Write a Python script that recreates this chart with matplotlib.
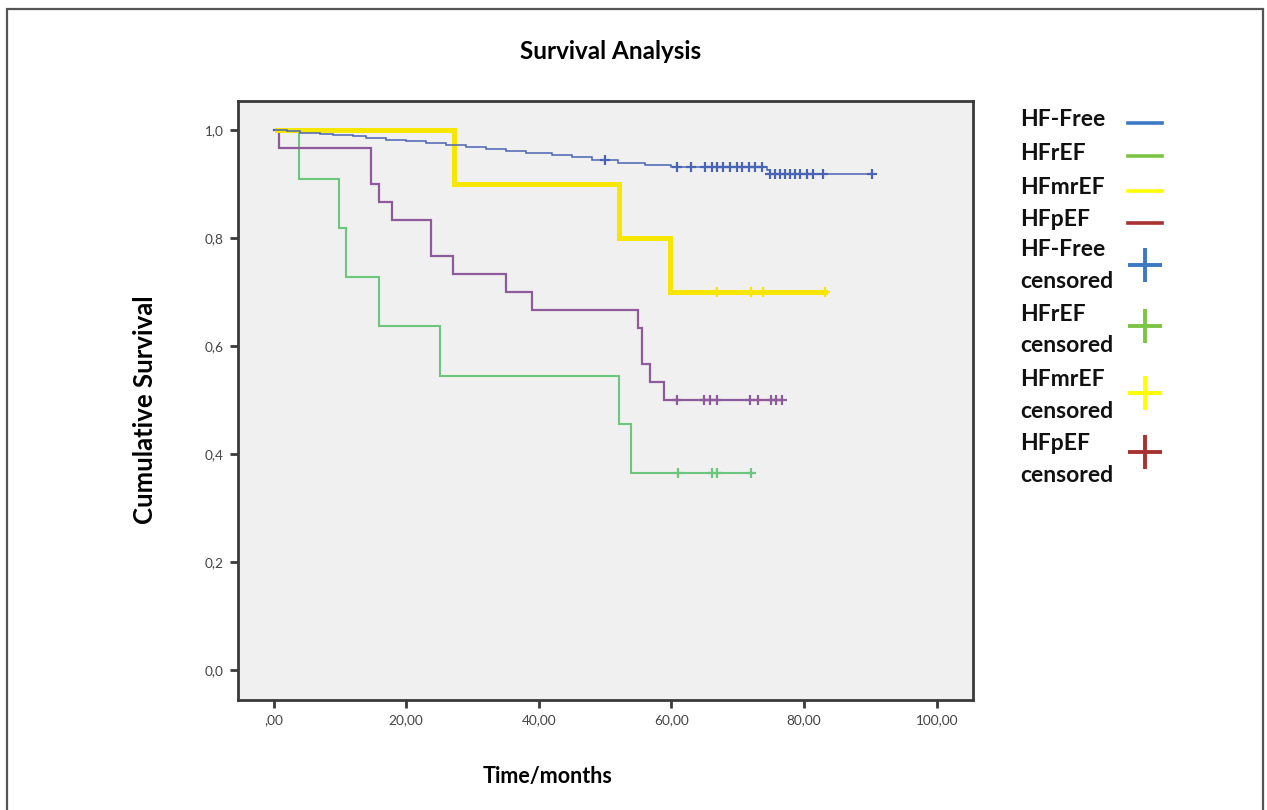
import matplotlib
matplotlib.use("Agg")
import matplotlib.pyplot as plt
from matplotlib.lines import Line2D
from matplotlib.patches import Rectangle
import numpy as np

# ---------------- data ----------------
groups = ["HF-Free", "HFrEF", "HFmrEF", "HFpEF"]

# HF-Free: step times / survival, last follow-up, censored times
free_t = [0, 2, 4, 7, 9, 12, 14, 17, 20, 23, 26, 29, 32, 35, 38, 42, 45, 48, 52, 56, 60, 74.4, 74.8]
free_s = [1.0, 0.998, 0.995, 0.993, 0.990, 0.988, 0.985, 0.982, 0.979, 0.975, 0.972, 0.968,
          0.964, 0.960, 0.957, 0.953, 0.949, 0.944, 0.938, 0.935, 0.932, 0.925, 0.918]
free_end = 90.2
free_cens = [50.0, 60.8, 63.0, 65.0, 66.1, 66.8, 67.8, 68.8, 69.8, 70.7, 71.7, 72.6, 73.6,
             74.9, 75.6, 76.4, 77.1, 77.9, 78.6, 79.4, 80.4, 81.4, 82.9, 90.2]

# HFrEF
hfr_t = [0, 3.9, 9.9, 11.0, 15.9, 25.1, 52.1, 53.9]
hfr_s = [1.0, 0.909, 0.818, 0.727, 0.636, 0.545, 0.455, 0.364]
hfr_end = 72.0
hfr_cens = [61.0, 66.1, 66.9, 72.0]

# HFmrEF
hfm_t = [0.6, 27.2, 52.1, 59.8]
hfm_s = [1.0, 0.9, 0.8, 0.7]
hfm_end = 83.2
hfm_cens = [66.9, 72.0, 73.8, 83.2]

# HFpEF
hfp_t = [0.0, 0.8, 14.7, 15.9, 17.9, 23.8, 27.0, 35.1, 39.0, 54.9, 55.6, 56.8, 58.8]
hfp_s = [1.0, 0.967, 0.9, 0.867, 0.833, 0.767, 0.733, 0.7, 0.667, 0.633, 0.567, 0.533, 0.5]
hfp_end = 76.6
hfp_cens = [60.9, 64.9, 65.8, 66.8, 71.9, 73.0, 75.0, 75.8, 76.6]

x_ticks = [0, 20, 40, 60, 80, 100]
x_ticklabels = [",00", "20,00", "40,00", "60,00", "80,00", "100,00"]
y_ticks = [0.0, 0.2, 0.4, 0.6, 0.8, 1.0]
y_ticklabels = ["0,0", "0,2", "0,4", "0,6", "0,8", "1,0"]

# curve colours and legend colours
curve_colors = {"HF-Free": "#4a64b4", "HFrEF": "#6cc67c", "HFmrEF": "#f6e600", "HFpEF": "#8e5a9c"}
legend_colors = {"HF-Free": "#3d78c4", "HFrEF": "#7cc444", "HFmrEF": "#ffff00", "HFpEF": "#a83232"}

# ---------------- figure ----------------
W, H = 1267, 810
fig = plt.figure(figsize=(W / 100, H / 100), dpi=100)
fig.patch.set_facecolor("white")

# outer frame
fig.patches.append(Rectangle((7 / W, -0.05), (1263 - 7) / W, 1.05 - 9 / H,
                             transform=fig.transFigure, fill=False,
                             edgecolor="#555555", linewidth=1.6, zorder=0))

ax = fig.add_axes([237.7 / W, 1 - 700 / H, (973.3 - 237.7) / W, (700 - 100.7) / H])
ax.set_facecolor("#f0f0f0")
ax.set_xlim(-5.4, 105.5)
ax.set_ylim(-0.0556, 1.054)

def draw_curve(t, s, end, cens, color, lw, z):
    tt = list(t) + [end]
    ss = list(s) + [s[-1]]
    ax.step(tt, ss, where="post", color=color, lw=lw, zorder=z, solid_joinstyle="miter")
    tarr = np.array(t)
    cy = [s[np.searchsorted(tarr, c, side="right") - 1] for c in cens]
    ax.plot(cens, cy, ls="none", marker="+", markersize=7, mew=1.6, color=color, zorder=z + 0.1)

draw_curve(hfr_t, hfr_s, hfr_end, hfr_cens, curve_colors["HFrEF"], 1.5, 2)
draw_curve(hfp_t, hfp_s, hfp_end, hfp_cens, curve_colors["HFpEF"], 1.6, 3)
draw_curve(hfm_t, hfm_s, hfm_end, hfm_cens, curve_colors["HFmrEF"], 3.6, 4)
draw_curve(free_t, free_s, free_end, free_cens, curve_colors["HF-Free"], 1.1, 5)

for sp in ax.spines.values():
    sp.set_color("#3a3a3a")
    sp.set_linewidth(2.0)

ax.set_xticks(x_ticks)
ax.set_xticklabels(x_ticklabels)
ax.set_yticks(y_ticks)
ax.set_yticklabels(y_ticklabels)
ax.tick_params(axis="both", direction="out", length=6, width=2, color="#3a3a3a",
               labelsize=9.8, labelcolor="#444444", pad=4)
for lab in ax.get_xticklabels() + ax.get_yticklabels():
    lab.set_family("Lato")

ax.set_title("Survival Analysis", fontsize=17.5, fontweight="bold", family="Lato",
             pad=30, x=0.507)
ax.set_xlabel("Time/months", fontsize=15.5, fontweight="bold", family="Lato")
ax.xaxis.set_label_coords(0.4218, -0.110)
ax.set_ylabel("Cumulative Survival", fontsize=18.5, fontweight="bold", family="Lato")
ax.yaxis.set_label_coords(-0.110, 0.484)

# legend (text on the left, symbol on the right, as in the reference)
lx_text = 1020 / W
line_x = [1128 / W, 1162 / W]
plus_x = 1145 / W
single_rows = [(120, 123), (154, 156), (188, 191), (220, 223)]   # (text y, handle y) px
double_rows = [(250, 281, 265), (315, 346, 326), (380, 411, 393), (443, 475, 452)]
lfont = dict(family="Lato", fontweight="bold", fontsize=16.5, color="#111111", va="center", ha="left")

for g, (ty, hy) in zip(groups, single_rows):
    fig.text(lx_text, 1 - ty / H, g, **lfont)
    fig.add_artist(Line2D(line_x, [1 - hy / H] * 2, transform=fig.transFigure,
                          color=legend_colors[g], lw=2.6))
for g, (ty1, ty2, py) in zip(groups, double_rows):
    fig.text(lx_text, 1 - ty1 / H, g, **lfont)
    fig.text(lx_text, 1 - ty2 / H, "censored", **lfont)
    fig.add_artist(Line2D([plus_x], [1 - py / H], transform=fig.transFigure,
                          color=legend_colors[g], ls="none", marker="+",
                          markersize=25, mew=2.8))

fig.savefig("out.png", dpi=100, facecolor="white")
